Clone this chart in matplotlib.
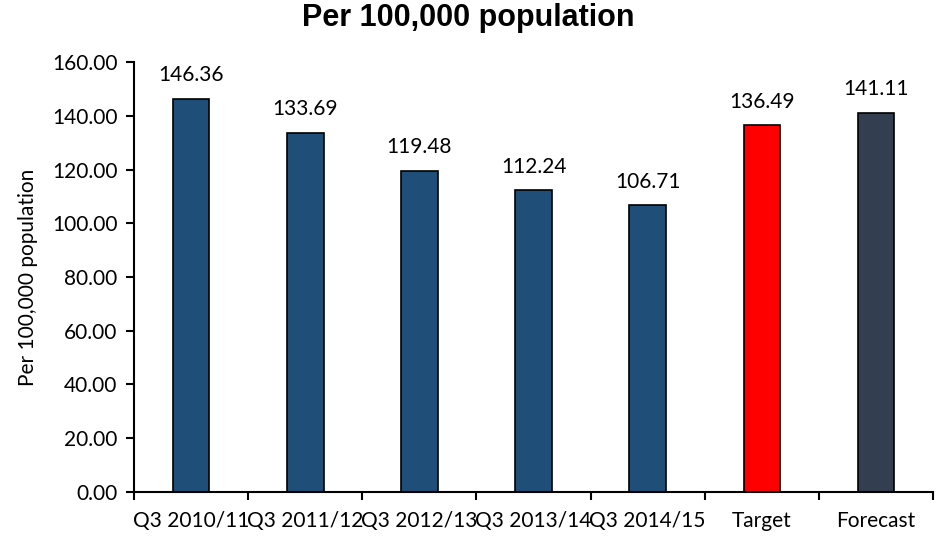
import matplotlib
matplotlib.use("Agg")
import matplotlib.pyplot as plt
import numpy as np

categories = ["Q3 2010/11", "Q3 2011/12", "Q3 2012/13", "Q3 2013/14", "Q3 2014/15", "Target", "Forecast"]
values = [146.36, 133.69, 119.48, 112.24, 106.71, 136.49, 141.11]
colors = ["#1F4E79"] * 5 + ["#FF0000", "#333F50"]

plt.rcParams['font.family'] = ['Lato', 'DejaVu Sans']

fig = plt.figure(figsize=(9.36, 5.36), dpi=100)
ax = fig.add_axes([0.1432, 0.0821, 0.8536, 0.8022])

x = np.arange(len(categories))
ax.bar(x, values, width=0.32, color=colors, edgecolor="black", linewidth=1.2)
for xi, v in zip(x, values):
    ax.text(xi, v + 5, f"{v:.2f}", ha="center", va="bottom", fontsize=15)

ax.set_xlim(-0.5, len(categories) - 0.5)
ax.set_ylim(0, 160)
ax.set_yticks(np.arange(0, 161, 20))
ax.set_yticklabels([f"{t:.2f}" for t in np.arange(0, 161, 20)], fontsize=15)
ax.set_xticks(x)
ax.set_xticklabels(categories, fontsize=15)
ax.tick_params(axis="x", length=0, pad=14)
ax.set_xticks(np.arange(-0.5, len(categories) - 0.4, 1), minor=True)
ax.tick_params(axis="x", which="minor", length=6, width=1.5, direction="out")
ax.tick_params(axis="y", length=6, width=1.5, direction="out", pad=6)
for s in ["top", "right"]:
    ax.spines[s].set_visible(False)
ax.spines["left"].set_linewidth(1.5)
ax.spines["bottom"].set_linewidth(1.5)
ax.set_ylabel("Per 100,000 population", fontsize=15, labelpad=10)
fig.suptitle("Per 100,000 population", fontsize=22, fontweight="bold",
             family="Liberation Sans", y=0.995)
fig.savefig("out.png", dpi=100)
